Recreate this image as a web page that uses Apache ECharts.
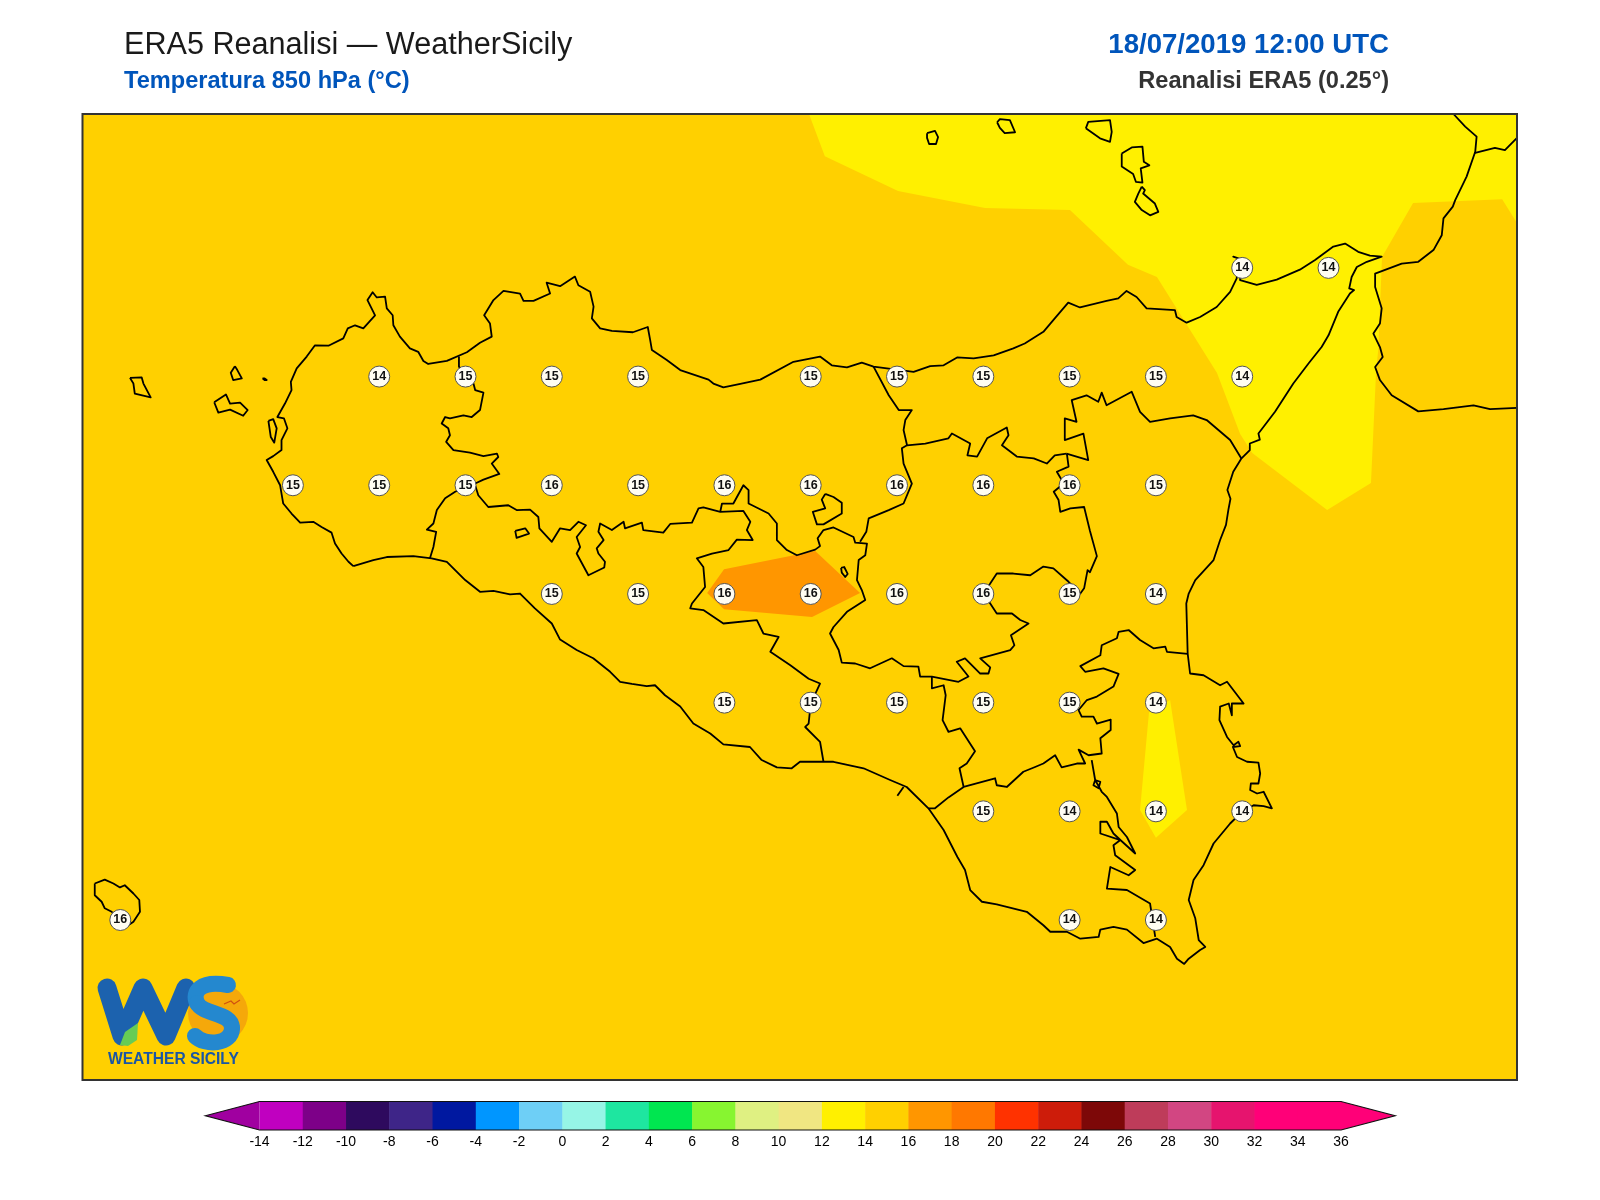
<!DOCTYPE html>
<html><head><meta charset="utf-8"><title>ERA5 Reanalisi</title>
<style>html,body{margin:0;padding:0;background:#fff}#c{width:1600px;height:1200px}</style>
<script src="https://cdn.jsdelivr.net/npm/echarts@6/dist/echarts.min.js"></script></head>
<body><div id="c"></div>
<script>
// ---- Map extent (degrees)
const lonMin=11.8905, lonMax=16.046, latMin=36.382, latMax=38.604;
// ---- Station samples (0.25 degree grid)
const stationLon=[15.25,15.5, 12.75,13,13.25,13.5,14,14.25,14.5,14.75,15,15.25, 12.5,12.75,13,13.25,13.5,13.75,14,14.25,14.5,14.75,15, 13.25,13.5,13.75,14,14.25,14.5,14.75,15, 13.75,14,14.25,14.5,14.75,15, 14.5,14.75,15,15.25, 12,14.75,15];
const stationLat=[38.25,38.25, 38,38,38,38,38,38,38,38,38,38, 37.75,37.75,37.75,37.75,37.75,37.75,37.75,37.75,37.75,37.75,37.75, 37.5,37.5,37.5,37.5,37.5,37.5,37.5,37.5, 37.25,37.25,37.25,37.25,37.25,37.25, 37,37,37,37, 36.75,36.75,36.75];
const stationT=[14,14, 14,15,15,15,15,15,15,15,15,14, 15,15,15,16,15,16,16,16,16,16,15, 15,15,16,16,16,16,15,14, 15,15,15,15,15,14, 15,14,14,14, 16,14,14];
// ---- Filled temperature regions (lon,lat)
const field12to14North=[[13.995,38.604],[14.041,38.507],[14.253,38.427],[14.505,38.388],[14.751,38.383],[14.919,38.257],[15.003,38.229],[15.177,38.008],[15.244,37.868],[15.279,37.824],[15.496,37.693],[15.623,37.755],[15.638,38.015],[15.644,38.061],[15.655,38.275],[15.745,38.399],[16.003,38.408],[16.046,38.353],[16.046,38.604]];
const field12to14South=[[14.980,37.228],[15.041,37.256],[15.090,37.003],[15.000,36.939],[14.954,37.003]];
const field16to18=[[13.700,37.502],[13.749,37.557],[14.013,37.599],[14.143,37.502],[14.004,37.447],[13.749,37.465]];
// ---- Colour bar
const barLevels=[-14,-12,-10,-8,-6,-4,-2,0,2,4,6,8,10,12,14,16,18,20,22,24,26,28,30,32,34,36];
const barColors=['#C000C0','#7D0088','#2E0A5E','#3E2588','#0018A0','#0096FF','#6ECFF6','#96F5E6','#1EE6A0','#00E650','#87F530','#DFF082','#F0E682','#FFF000','#FFD000','#FF9600','#FF7800','#FF3200','#CD1C0A','#7D0808','#BE3C5A','#D24682','#E6146E','#FF0078','#FF0078'];
const barLowColor='#A000A0', barHighColor='#FF0078', barLowTip=-16.5, barHighTip=38.5;
// ---- Coast of Sicily (closed ring, lon,lat)
const coastSicily=[[12.675,37.564],[12.661,37.574],[12.641,37.593],[12.622,37.616],[12.612,37.641],[12.583,37.654],[12.559,37.666],[12.521,37.664],[12.496,37.685],[12.472,37.708],[12.467,37.731],[12.463,37.750],[12.443,37.781],[12.424,37.808],[12.443,37.817],[12.467,37.831],[12.467,37.854],[12.484,37.881],[12.474,37.904],[12.455,37.907],[12.477,37.938],[12.496,37.969],[12.494,37.988],[12.511,38.019],[12.540,38.046],[12.564,38.072],[12.603,38.071],[12.646,38.088],[12.659,38.111],[12.680,38.118],[12.704,38.111],[12.738,38.141],[12.716,38.176],[12.731,38.194],[12.743,38.182],[12.767,38.184],[12.772,38.157],[12.789,38.141],[12.791,38.118],[12.810,38.092],[12.839,38.065],[12.863,38.057],[12.878,38.036],[12.892,38.029],[12.946,38.036],[13.004,38.056],[13.042,38.078],[13.076,38.092],[13.071,38.122],[13.054,38.141],[13.081,38.176],[13.110,38.197],[13.158,38.191],[13.168,38.174],[13.197,38.174],[13.245,38.191],[13.235,38.216],[13.274,38.208],[13.317,38.230],[13.327,38.210],[13.361,38.195],[13.371,38.161],[13.366,38.134],[13.390,38.111],[13.424,38.105],[13.485,38.102],[13.528,38.114],[13.535,38.084],[13.540,38.061],[13.583,38.038],[13.622,38.015],[13.704,37.993],[13.718,37.984],[13.747,37.975],[13.796,37.983],[13.854,37.993],[13.950,38.034],[14.027,38.046],[14.061,38.026],[14.105,38.021],[14.148,38.032],[14.182,38.023],[14.298,38.011],[14.346,38.024],[14.385,38.026],[14.424,38.044],[14.472,38.042],[14.530,38.049],[14.587,38.065],[14.620,38.076],[14.674,38.103],[14.707,38.134],[14.746,38.170],[14.780,38.159],[14.857,38.174],[14.891,38.180],[14.915,38.197],[14.944,38.183],[14.973,38.157],[15.055,38.153],[15.060,38.137],[15.089,38.124],[15.128,38.137],[15.176,38.160],[15.215,38.195],[15.234,38.226],[15.239,38.272],[15.224,38.276],[15.239,38.272],[15.244,38.222],[15.292,38.211],[15.350,38.223],[15.417,38.246],[15.461,38.268],[15.514,38.299],[15.548,38.306],[15.586,38.287],[15.620,38.278],[15.654,38.276],[15.611,38.264],[15.582,38.252],[15.567,38.229],[15.560,38.203],[15.574,38.199],[15.562,38.191],[15.528,38.149],[15.500,38.095],[15.480,38.068],[15.442,38.030],[15.398,37.984],[15.345,37.919],[15.297,37.869],[15.301,37.855],[15.272,37.846],[15.272,37.831],[15.248,37.812],[15.224,37.781],[15.207,37.739],[15.216,37.719],[15.210,37.694],[15.203,37.659],[15.186,37.624],[15.167,37.578],[15.114,37.532],[15.095,37.501],[15.088,37.478],[15.092,37.363],[15.099,37.317],[15.138,37.313],[15.186,37.290],[15.206,37.298],[15.254,37.248],[15.220,37.248],[15.220,37.221],[15.211,37.248],[15.186,37.241],[15.184,37.210],[15.206,37.171],[15.225,37.152],[15.239,37.160],[15.244,37.150],[15.223,37.148],[15.235,37.125],[15.264,37.114],[15.297,37.112],[15.302,37.087],[15.297,37.064],[15.275,37.064],[15.273,37.049],[15.293,37.041],[15.312,37.045],[15.336,37.007],[15.312,37.012],[15.283,37.014],[15.249,36.999],[15.215,36.972],[15.167,36.926],[15.138,36.876],[15.109,36.842],[15.095,36.796],[15.114,36.754],[15.124,36.704],[15.143,36.688],[15.128,36.681],[15.095,36.661],[15.082,36.649],[15.061,36.661],[15.041,36.688],[15.003,36.707],[14.964,36.697],[14.916,36.728],[14.877,36.734],[14.839,36.728],[14.834,36.711],[14.781,36.707],[14.742,36.723],[14.694,36.723],[14.674,36.738],[14.626,36.769],[14.539,36.786],[14.496,36.792],[14.462,36.819],[14.447,36.865],[14.425,36.895],[14.385,36.957],[14.341,37.007],[14.278,37.056],[14.230,37.072],[14.153,37.099],[14.066,37.114],[13.969,37.114],[13.945,37.099],[13.902,37.101],[13.858,37.118],[13.824,37.148],[13.747,37.154],[13.709,37.179],[13.660,37.202],[13.622,37.241],[13.578,37.267],[13.549,37.290],[13.525,37.288],[13.482,37.293],[13.448,37.298],[13.419,37.321],[13.370,37.352],[13.322,37.371],[13.274,37.395],[13.250,37.432],[13.201,37.467],[13.158,37.501],[13.129,37.499],[13.081,37.507],[13.042,37.505],[12.999,37.532],[12.946,37.574],[12.902,37.582],[12.849,37.587],[12.772,37.585],[12.733,37.578],[12.675,37.564]];
// ---- Coast of Calabria (open)
const coastCalabria=[[15.862,38.604],[15.896,38.575],[15.929,38.552],[15.925,38.517],[15.900,38.460],[15.867,38.406],[15.860,38.391],[15.833,38.364],[15.828,38.325],[15.804,38.291],[15.760,38.264],[15.712,38.260],[15.635,38.237],[15.635,38.206],[15.654,38.157],[15.649,38.122],[15.630,38.099],[15.649,38.068],[15.657,38.045],[15.635,38.022],[15.649,37.992],[15.683,37.957],[15.760,37.920],[15.833,37.925],[15.920,37.934],[15.968,37.925],[16.046,37.928]];
const coastCalabriaNorth=[[15.922,38.514],[15.982,38.526],[16.011,38.521],[16.046,38.549]];
// ---- Islands (closed rings)
const isleMarettimo=[[12.028,37.997],[12.062,37.998],[12.067,37.984],[12.088,37.952],[12.042,37.961],[12.038,37.984]];
const isleLevanzo=[[12.332,38.024],[12.320,38.009],[12.327,37.992],[12.352,37.996],[12.339,38.015]];
const isleFavignana=[[12.272,37.941],[12.306,37.959],[12.318,37.938],[12.347,37.940],[12.369,37.923],[12.356,37.910],[12.318,37.924],[12.284,37.917]];
const isleFormica=[[12.412,37.996],[12.418,37.992],[12.424,37.992],[12.418,37.996]];
const isleStagnone=[[12.429,37.898],[12.436,37.861],[12.446,37.848],[12.453,37.881],[12.443,37.902]];
const isleUstica=[[14.337,38.560],[14.360,38.565],[14.369,38.551],[14.363,38.535],[14.343,38.535],[14.337,38.549]];
const isleFilicudi=[[14.540,38.585],[14.548,38.592],[14.577,38.590],[14.592,38.562],[14.562,38.560],[14.548,38.572]];
const isleSalina=[[14.797,38.571],[14.804,38.586],[14.867,38.590],[14.872,38.563],[14.867,38.540],[14.838,38.548]];
const isleLipari=[[14.901,38.513],[14.930,38.527],[14.961,38.529],[14.965,38.494],[14.981,38.486],[14.956,38.479],[14.961,38.446],[14.942,38.448],[14.934,38.466],[14.901,38.483]];
const isleVulcano=[[14.959,38.437],[14.968,38.429],[14.963,38.421],[14.997,38.398],[15.007,38.379],[14.983,38.371],[14.959,38.383],[14.939,38.402],[14.949,38.421]];
const islePantelleria=[[11.926,36.834],[11.955,36.843],[11.980,36.834],[11.999,36.825],[12.013,36.830],[12.038,36.811],[12.055,36.796],[12.057,36.769],[12.038,36.746],[12.018,36.735],[11.997,36.750],[11.975,36.769],[11.955,36.777],[11.946,36.792],[11.926,36.807]];
// ---- Enclaves and lake (closed rings)
const enclaveTrapani=[[13.144,37.645],[13.173,37.651],[13.184,37.639],[13.148,37.629]];
const enclavePalermo=[[14.042,37.730],[14.066,37.723],[14.090,37.710],[14.090,37.685],[14.037,37.660],[14.018,37.660],[14.006,37.689],[14.042,37.697],[14.032,37.717]];
const lakePozzillo=[[14.088,37.560],[14.097,37.562],[14.107,37.546],[14.100,37.539],[14.090,37.549]];
// ---- Province borders (open)
const borderTrapaniPalermo=[[12.981,38.046],[12.981,38.023],[13.004,38.000],[13.023,37.984],[13.028,37.969],[13.052,37.963],[13.042,37.923],[13.018,37.907],[12.994,37.911],[12.955,37.904],[12.941,37.907],[12.931,37.892],[12.950,37.881],[12.955,37.865],[12.944,37.850],[12.965,37.831],[13.013,37.825],[13.052,37.817],[13.091,37.823],[13.095,37.815],[13.076,37.800],[13.098,37.776],[13.052,37.763],[13.028,37.754],[12.999,37.746],[12.970,37.735],[12.941,37.720],[12.917,37.693],[12.907,37.662],[12.888,37.648],[12.915,37.643],[12.907,37.608],[12.897,37.582]];
const borderPalermoSouth=[[13.028,37.750],[13.037,37.727],[13.066,37.700],[13.124,37.704],[13.148,37.693],[13.187,37.694],[13.211,37.677],[13.214,37.651],[13.250,37.620],[13.274,37.651],[13.303,37.647],[13.327,37.666],[13.349,37.658],[13.322,37.631],[13.332,37.608],[13.322,37.593],[13.356,37.543],[13.402,37.561],[13.404,37.574],[13.385,37.593],[13.380,37.605],[13.400,37.624],[13.385,37.643],[13.390,37.662],[13.424,37.647],[13.458,37.666],[13.462,37.651],[13.511,37.664],[13.515,37.647],[13.573,37.641],[13.593,37.661],[13.656,37.664],[13.675,37.697],[13.689,37.699],[13.738,37.689],[13.805,37.691],[13.825,37.666],[13.815,37.647],[13.832,37.624],[13.786,37.625],[13.762,37.601],[13.714,37.593],[13.670,37.582],[13.689,37.562],[13.694,37.516],[13.656,37.478],[13.651,37.467],[13.689,37.463],[13.747,37.432],[13.844,37.440],[13.863,37.409],[13.907,37.401],[13.883,37.367],[13.941,37.336],[13.994,37.305],[14.027,37.294],[14.000,37.248],[13.994,37.202],[13.984,37.194],[14.027,37.160],[14.037,37.114]];
const borderCaltanissettaNorth=[[13.738,37.689],[13.743,37.708],[13.776,37.708],[13.805,37.750],[13.820,37.739],[13.820,37.708],[13.878,37.685],[13.902,37.662],[13.902,37.624],[13.931,37.601],[13.960,37.589],[14.013,37.602],[14.027,37.610],[14.020,37.628],[14.037,37.647],[14.066,37.653],[14.124,37.631],[14.129,37.618],[14.163,37.616],[14.158,37.589],[14.139,37.578],[14.134,37.532],[14.148,37.509],[14.158,37.486],[14.105,37.459],[14.066,37.424],[14.056,37.409],[14.081,37.371],[14.090,37.342],[14.129,37.340],[14.172,37.329],[14.235,37.352],[14.269,37.334],[14.312,37.333],[14.317,37.310],[14.351,37.310],[14.428,37.298],[14.457,37.310],[14.423,37.344],[14.447,37.352],[14.491,37.317],[14.515,37.317],[14.520,37.331],[14.491,37.352],[14.578,37.371],[14.590,37.382],[14.580,37.405],[14.631,37.432],[14.607,37.440],[14.583,37.455],[14.539,37.455],[14.520,37.478],[14.500,37.501],[14.520,37.524],[14.539,37.547],[14.587,37.547],[14.636,37.543],[14.674,37.563],[14.703,37.559],[14.747,37.528],[14.781,37.501],[14.792,37.513],[14.802,37.555],[14.809,37.550],[14.829,37.587],[14.809,37.645],[14.792,37.700],[14.752,37.697],[14.723,37.689],[14.718,37.716],[14.704,37.735],[14.733,37.754],[14.713,37.781],[14.747,37.793],[14.742,37.823]];
const borderMessinaWest=[[14.182,38.023],[14.226,37.957],[14.255,37.923],[14.293,37.923],[14.274,37.900],[14.269,37.877],[14.279,37.842],[14.264,37.835],[14.269,37.800],[14.293,37.754],[14.269,37.708],[14.226,37.693],[14.168,37.674],[14.161,37.643],[14.143,37.620]];
const borderMessinaEnna=[[14.279,37.842],[14.332,37.846],[14.399,37.858],[14.409,37.869],[14.462,37.846],[14.454,37.819],[14.482,37.816],[14.511,37.858],[14.568,37.883],[14.573,37.865],[14.554,37.842],[14.597,37.816],[14.646,37.812],[14.684,37.800],[14.707,37.819],[14.741,37.823]];
const borderMessinaCatania=[[14.741,37.823],[14.804,37.808],[14.790,37.869],[14.736,37.854],[14.736,37.904],[14.770,37.896],[14.756,37.946],[14.799,37.957],[14.833,37.942],[14.843,37.963],[14.857,37.934],[14.930,37.965],[14.954,37.919],[14.983,37.896],[15.041,37.904],[15.108,37.911],[15.147,37.900],[15.215,37.854],[15.248,37.811]];
const borderSiracusaNorth=[[15.092,37.362],[15.032,37.367],[15.027,37.379],[14.993,37.375],[14.954,37.394],[14.921,37.417],[14.892,37.413],[14.887,37.398],[14.843,37.382],[14.839,37.359],[14.781,37.334],[14.795,37.321],[14.848,37.329],[14.892,37.316],[14.877,37.287],[14.829,37.264],[14.800,37.256],[14.776,37.233],[14.785,37.218],[14.819,37.218],[14.829,37.202],[14.869,37.211],[14.869,37.187],[14.839,37.168],[14.843,37.133],[14.805,37.129],[14.776,37.142],[14.795,37.110],[14.771,37.110],[14.727,37.101],[14.708,37.129],[14.674,37.110],[14.650,37.102],[14.616,37.091],[14.568,37.056],[14.539,37.060],[14.534,37.076],[14.443,37.056],[14.399,37.032],[14.360,37.007],[14.341,37.007]];
const borderRagusaSiracusa=[[14.814,37.118],[14.824,37.072],[14.819,37.060],[14.834,37.053],[14.839,37.068],[14.824,37.072],[14.843,37.045],[14.858,37.033],[14.887,36.995],[14.892,36.964],[14.916,36.941],[14.940,36.903],[14.897,36.934],[14.839,36.949],[14.839,36.976],[14.858,36.976],[14.877,36.949],[14.897,36.934],[14.877,36.922],[14.882,36.899],[14.940,36.865],[14.921,36.853],[14.868,36.872],[14.858,36.822],[14.916,36.819],[14.983,36.788],[14.998,36.711]];
const borderCataniaWest=[[14.351,37.310],[14.351,37.283],[14.385,37.290],[14.391,37.267],[14.382,37.210],[14.399,37.183],[14.433,37.191],[14.476,37.138],[14.452,37.110],[14.431,37.099],[14.443,37.056]];
const gelaTick=[[14.269,37.056],[14.251,37.036]];

const closedRings=[isleMarettimo,isleLevanzo,isleFavignana,isleFormica,isleStagnone,isleUstica,isleFilicudi,isleSalina,isleLipari,isleVulcano,islePantelleria,enclaveTrapani,enclavePalermo,lakePozzillo];
const openLines=[coastSicily,coastCalabria,coastCalabriaNorth,borderTrapaniPalermo,borderPalermoSouth,borderCaltanissettaNorth,borderMessinaWest,borderMessinaEnna,borderMessinaCatania,borderSiracusaNorth,borderRagusaSiracusa,borderCataniaWest,gelaTick];

const fieldSeries=(poly,color)=>({type:'custom',xAxisIndex:0,yAxisIndex:0,z:2,silent:true,clip:true,data:[0],
  renderItem:(p,api)=>({type:'polygon',shape:{points:poly.map(c=>api.coord(c))},style:{fill:color}})});
const lineSeries=pts=>({type:'line',xAxisIndex:0,yAxisIndex:0,z:3,silent:true,symbol:'none',clip:true,animation:false,data:pts,lineStyle:{color:'#000',width:1.8,join:'round'}});

const series=[
  fieldSeries(field12to14North,'#FFF000'),fieldSeries(field12to14South,'#FFF000'),fieldSeries(field16to18,'#FF9600'),
  ...openLines.map(lineSeries),
  ...closedRings.map(r=>lineSeries(r.concat([r[0]]))),
  {type:'scatter',xAxisIndex:0,yAxisIndex:0,z:5,silent:true,symbolSize:21,
   data:stationLon.map((x,i)=>[x,stationLat[i],stationT[i]]),
   itemStyle:{color:'#FFFDF2',borderColor:'#555',borderWidth:1,opacity:1},
   label:{show:true,position:'inside',formatter:p=>p.value[2],color:'#111',fontFamily:'Liberation Sans',fontWeight:'bold',fontSize:12.5}},
  {type:'custom',xAxisIndex:0,yAxisIndex:0,z:6,silent:true,clip:false,data:[0],
   renderItem:(p,api)=>({type:'polygon',shape:{points:[[lonMin,latMin],[lonMax,latMin],[lonMax,latMax],[lonMin,latMax]].map(c=>api.coord(c))},style:{fill:'none',stroke:'#333',lineWidth:2}})},
  {type:'custom',xAxisIndex:1,yAxisIndex:1,z:2,silent:true,clip:false,data:barColors.map((c,i)=>[barLevels[i],barLevels[i+1]]),
   renderItem:(p,api)=>{const a=api.coord([api.value(0),0]),b=api.coord([api.value(1),1]);
     return {type:'rect',shape:{x:a[0],y:b[1],width:b[0]-a[0]+0.5,height:a[1]-b[1]},style:{fill:barColors[p.dataIndex]}};}},
  {type:'custom',xAxisIndex:1,yAxisIndex:1,z:3,silent:true,clip:false,data:[0],
   renderItem:(p,api)=>{const lo=barLevels[0],hi=barLevels[barLevels.length-1];const c=(x,y)=>api.coord([x,y]);
     return {type:'group',children:[
       {type:'polygon',shape:{points:[c(barLowTip,.5),c(lo,1),c(lo,0)]},style:{fill:barLowColor}},
       {type:'polygon',shape:{points:[c(barHighTip,.5),c(hi,1),c(hi,0)]},style:{fill:barHighColor}},
       {type:'polygon',shape:{points:[c(barLowTip,.5),c(lo,1),c(hi,1),c(barHighTip,.5),c(hi,0),c(lo,0)]},style:{fill:'none',stroke:'#111',lineWidth:1.2}}]};}}
];

const F='Liberation Sans';
const chart=echarts.init(document.getElementById('c'),null,{width:1600,height:1200});
const sStroke={fill:'none',stroke:'#2488CF',lineWidth:16,lineCap:'round'};
chart.setOption({
  animation:false,backgroundColor:'#fff',
  title:[
    {text:'ERA5 Reanalisi \u2014 WeatherSicily',left:124,top:30,padding:0,textStyle:{fontFamily:F,fontSize:30.6,fontWeight:'normal',color:'#1a1a1a'}},
    {text:'Temperatura 850 hPa (\u00b0C)',left:124,top:69,padding:0,textStyle:{fontFamily:F,fontSize:23.6,fontWeight:'bold',color:'#0055BB'}},
    {text:'18/07/2019 12:00 UTC',right:211,top:31,padding:0,textStyle:{fontFamily:F,fontSize:27.6,fontWeight:'bold',color:'#0055BB'}},
    {text:'Reanalisi ERA5 (0.25\u00b0)',right:211,top:69,padding:0,textStyle:{fontFamily:F,fontSize:23.6,fontWeight:'bold',color:'#333'}}
  ],
  grid:[
    {left:82.5,top:114,width:1434.5,height:966,show:true,backgroundColor:'#FFD000',borderWidth:0,containLabel:false},
    {left:259.5,top:1101.5,width:1081.5,height:28.5,show:false}
  ],
  xAxis:[
    {gridIndex:0,type:'value',min:lonMin,max:lonMax,show:false},
    {gridIndex:1,type:'value',min:barLevels[0],max:barLevels[barLevels.length-1],interval:2,
     axisLine:{show:false},axisTick:{show:false},splitLine:{show:false},
     axisLabel:{margin:5,color:'#000',fontFamily:F,fontSize:14,hideOverlap:false}}
  ],
  yAxis:[
    {gridIndex:0,type:'value',min:latMin,max:latMax,show:false},
    {gridIndex:1,type:'value',min:0,max:1,show:false}
  ],
  series,
  graphic:[{type:'group',z:20,silent:true,children:[
    {type:'circle',shape:{cx:218,cy:1013,r:30},style:{fill:'#F5A80A'}},
    {type:'polyline',shape:{points:[[107,988],[122,1036],[143,988],[166,1036],[186,988]]},style:{fill:'none',stroke:'#1C62AE',lineWidth:19,lineCap:'round',lineJoin:'round'}},
    {type:'bezierCurve',shape:{x1:228,y1:985,cpx1:200,cpy1:980,cpx2:192,cpy2:992,x2:197,y2:1003},style:sStroke},
    {type:'bezierCurve',shape:{x1:197,y1:1003,cpx1:203,cpy1:1015,cpx2:232,cpy2:1012,x2:232,y2:1028},style:sStroke},
    {type:'bezierCurve',shape:{x1:232,y1:1028,cpx1:232,cpy1:1045,cpx2:205,cpy2:1046,x2:195,y2:1036},style:sStroke},
    {type:'polygon',shape:{points:[[120,1045],[125,1032],[138,1023],[137,1040],[128,1046]]},style:{fill:'#66CC55'}},
    {type:'polyline',shape:{points:[[224,1004],[231,1001],[234,1004],[240,1000]]},style:{fill:'none',stroke:'#D05010',lineWidth:1.2}},
    {type:'text',x:108,y:1060,style:{text:'WEATHER SICILY',fontFamily:F,fontWeight:'bold',fontSize:15.6,fill:'#1A56A5',verticalAlign:'middle'}}
  ]}]
});
</script></body></html>
